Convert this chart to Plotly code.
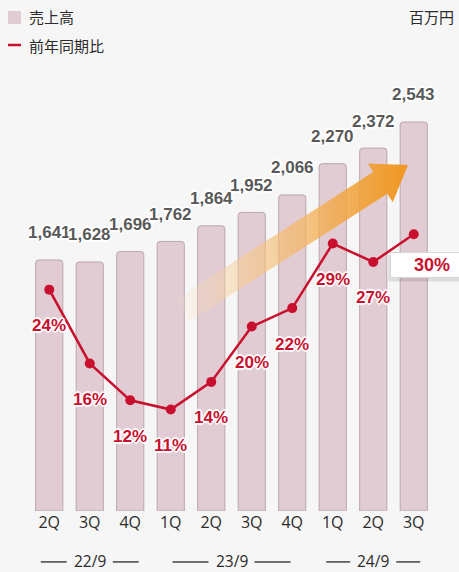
import plotly.graph_objects as go

# ---- data ---------------------------------------------------------------
quarters = ["2Q", "3Q", "4Q", "1Q", "2Q", "3Q", "4Q", "1Q", "2Q", "3Q"]
sales = [1641, 1628, 1696, 1762, 1864, 1952, 2066, 2270, 2372, 2543]   # 百万円
yoy_growth = [24, 16, 12, 11, 14, 20, 22, 29, 27, 30]                  # %
fiscal_years = ["22/9", "23/9", "24/9"]
fy_first_idx = [0, 3, 7]
fy_last_idx = [2, 6, 9]
fy_dash_px = [26, 36, 24]

# ---- canvas -------------------------------------------------------------
W, H = 459, 572
M_L, M_R, M_T, M_B = 29, 25, 60, 61
PW, PH = W - M_L - M_R, H - M_T - M_B
N = len(quarters)
Y1_MAX = 2948
Y2_MAX = 48.9

BAR_FILL = "#e2ccd3"
BAR_EDGE = "#b9a6ac"
RED = "#c8102e"
VAL_GRAY = "#595959"
TXT = "#2b2b2b"
BG = "#f6f6f6"
OUTLINE = ("1px 1px 0 #fff, -1px -1px 0 #fff, 1px -1px 0 #fff, -1px 1px 0 #fff, "
           "0 1px 0 #fff, 0 -1px 0 #fff, 1px 0 0 #fff, -1px 0 0 #fff, "
           "2px 0 1px #fff, -2px 0 1px #fff, 0 2px 1px #fff, 0 -2px 1px #fff")


def to_paper(xp, yp):
    return (xp - M_L) / PW, (H - M_B - yp) / PH


def to_data(xp, yp):
    return (xp - M_L) / PW * N - 0.5, (H - M_B - yp) / PH * Y1_MAX


def x_px(i):
    return M_L + (i + 0.5) / N * PW


fig = go.Figure()

# sales bars
fig.add_trace(go.Bar(
    x=list(range(N)), y=sales, width=0.67,
    marker=dict(color=BAR_FILL, line=dict(color=BAR_EDGE, width=1), cornerradius=3),
    hoverinfo="skip", showlegend=False,
))

# growth arrow (decorative), built in pixel space and mapped to data units
tail = (183.0, 310.0)
tip = (408.0, 165.0)
dx, dy = tip[0] - tail[0], tip[1] - tail[1]
L = (dx * dx + dy * dy) ** 0.5
ux, uy = dx / L, dy / L
px_, py_ = -uy, ux
shaft_hw, head_hw, head_len = 13.0, 23.0, 33.0
bx, by = tip[0] - ux * head_len, tip[1] - uy * head_len
outline_px = [
    (tail[0] + px_ * shaft_hw, tail[1] + py_ * shaft_hw),
    (bx + px_ * shaft_hw, by + py_ * shaft_hw),
    (bx + px_ * head_hw, by + py_ * head_hw),
    tip,
    (bx - px_ * head_hw, by - py_ * head_hw),
    (bx - px_ * shaft_hw, by - py_ * shaft_hw),
    (tail[0] - px_ * shaft_hw, tail[1] - py_ * shaft_hw),
    (tail[0] + px_ * shaft_hw, tail[1] + py_ * shaft_hw),
]
ax_, ay_ = zip(*[to_data(a, b) for a, b in outline_px])
fig.add_trace(go.Scatter(
    x=list(ax_), y=list(ay_), mode="lines", fill="toself",
    line=dict(width=0, color="rgba(0,0,0,0)"),
    fillgradient=dict(type="horizontal", colorscale=[
        [0.0, "rgba(250,226,192,0.10)"],
        [0.3, "rgba(246,202,142,0.60)"],
        [0.7, "rgba(242,168,72,0.85)"],
        [1.0, "rgba(240,150,30,1.0)"],
    ]),
    hoverinfo="skip", showlegend=False,
))

# year-on-year growth line
fig.add_trace(go.Scatter(
    x=list(range(N)), y=yoy_growth, yaxis="y2", mode="lines+markers",
    line=dict(color=RED, width=2.5), marker=dict(color=RED, size=10),
    hoverinfo="skip", showlegend=False,
))

ann = []
shapes = []

# bar value labels
for i, v in enumerate(sales):
    ann.append(dict(x=i, y=v, xref="x", yref="y", text=f"<b>{v:,}</b>",
                    showarrow=False, yshift=27,
                    font=dict(family="Liberation Sans, Arial", size=17, color=VAL_GRAY,
                              shadow=OUTLINE)))

# growth labels
for i, g in enumerate(yoy_growth[:-1]):
    ann.append(dict(x=i, y=g, xref="x", yref="y2", text=f"<b>{g}%</b>",
                    showarrow=False, yshift=-36,
                    font=dict(family="Liberation Sans, Arial", size=17, color=RED,
                              shadow=OUTLINE)))

# latest growth callout box
last = N - 1
ann.append(dict(x=last, y=yoy_growth[last], xref="x", yref="y2", text=" ",
                showarrow=False, xshift=16, yshift=-34, width=80, height=24,
                bgcolor="rgba(0,0,0,0.10)", borderpad=1))
ann.append(dict(x=last, y=yoy_growth[last], xref="x", yref="y2",
                text=f"<b>{yoy_growth[last]}%</b>",
                showarrow=False, xshift=18, yshift=-31, width=80, height=22,
                bgcolor="white", bordercolor="#d6d6d6", borderwidth=1, borderpad=1,
                font=dict(family="Liberation Sans, Arial", size=18, color=RED)))

# fiscal year group labels with side dashes
gy = to_paper(0, 561)[1]
for name, a, b, dl in zip(fiscal_years, fy_first_idx, fy_last_idx, fy_dash_px):
    c = (a + b) / 2
    ann.append(dict(x=c, y=gy, xref="x", yref="paper", text=name, showarrow=False,
                    yanchor="middle", height=18,
                    font=dict(family="Open Sans, Noto Sans", size=15.5, color=TXT)))
    cpx = x_px(c)
    for sgn in (-1, 1):
        x0 = cpx + sgn * 23
        x1 = cpx + sgn * (23 + dl)
        shapes.append(dict(type="line", xref="paper", yref="paper",
                           x0=to_paper(x0, 0)[0], x1=to_paper(x1, 0)[0],
                           y0=gy - 0.002, y1=gy - 0.002,
                           line=dict(color="#444", width=1.5)))

# legend (drawn manually)
sx0, sy0 = to_paper(8, 24)
sx1, sy1 = to_paper(21, 11)
shapes.append(dict(type="rect", xref="paper", yref="paper", x0=sx0, y0=sy0, x1=sx1, y1=sy1,
                   fillcolor=BAR_FILL, line=dict(width=0)))
lx0, ly = to_paper(8, 45)
lx1, _ = to_paper(21, 45)
shapes.append(dict(type="line", xref="paper", yref="paper", x0=lx0, x1=lx1, y0=ly, y1=ly,
                   line=dict(color=RED, width=2.5)))
jp = dict(family="Noto Sans CJK JP", size=15, color=TXT)
tx, ty = to_paper(27, 17)
ann.append(dict(x=tx, y=ty, xref="paper", yref="paper", text="売上高", showarrow=False,
                xanchor="left", yanchor="middle", font=jp))
tx, ty = to_paper(27, 45)
ann.append(dict(x=tx, y=ty, xref="paper", yref="paper", text="前年同期比", showarrow=False,
                xanchor="left", yanchor="middle", font=jp))
tx, ty = to_paper(456, 17)
ann.append(dict(x=tx, y=ty, xref="paper", yref="paper", text="百万円", showarrow=False,
                xanchor="right", yanchor="middle", font=jp))

fig.update_layout(
    width=W, height=H,
    margin=dict(l=M_L, r=M_R, t=M_T, b=M_B),
    paper_bgcolor=BG, plot_bgcolor=BG,
    showlegend=False,
    xaxis=dict(range=[-0.5, N - 0.5], tickmode="array", tickvals=list(range(N)),
               ticktext=quarters, showgrid=False, zeroline=False, showline=False,
               ticks="", ticklabelstandoff=0,
               tickfont=dict(family="Open Sans, Noto Sans", size=16, color=TXT)),
    yaxis=dict(range=[0, Y1_MAX], visible=False, showgrid=False, zeroline=False),
    yaxis2=dict(range=[0, Y2_MAX], overlaying="y", visible=False, showgrid=False,
                zeroline=False),
    annotations=ann,
    shapes=shapes,
)

fig.write_html("out.html")
